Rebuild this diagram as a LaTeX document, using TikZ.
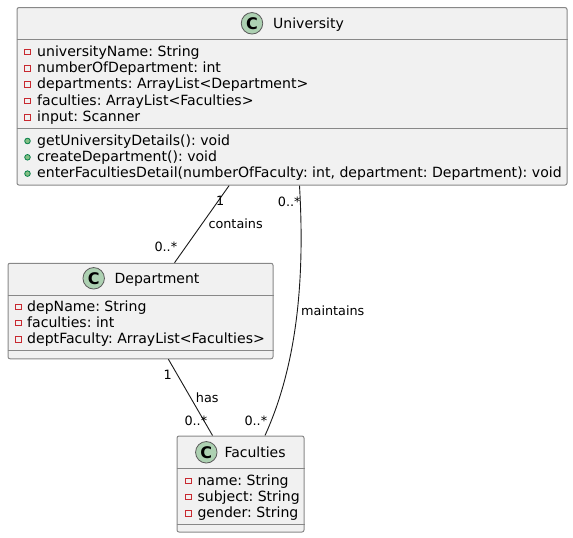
\documentclass[tikz,border=0pt]{standalone}
\usepackage{fontspec}
\setmainfont{DejaVu Sans}
\usepackage{xcolor}
\usetikzlibrary{calc}
\definecolor{BoxFill}{HTML}{F1F1F1}
\definecolor{BoxLine}{HTML}{888888}
\definecolor{SpotFill}{HTML}{ADD1B2}
\definecolor{PrivRed}{HTML}{C82930}
\definecolor{PubLine}{HTML}{038048}
\definecolor{PubFill}{HTML}{84BE84}
\tikzset{
  classbox/.style={draw=BoxLine, fill=BoxFill, rounded corners=2pt, line width=1pt, inner sep=0pt},
  sepline/.style={draw=BoxLine, line width=1pt},
  spot/.style={circle, draw=black!65, fill=SpotFill, line width=0.8pt, minimum size=21.5pt, inner sep=0pt, font=\fontsize{16}{16}\selectfont\bfseries},
  title/.style={anchor=base west, inner sep=0pt, font=\fontsize{14}{16}\selectfont},
  member/.style={anchor=base west, inner sep=0pt, font=\fontsize{14.08}{16}\selectfont},
  privmark/.style={rectangle, draw=PrivRed, line width=0.8pt, minimum size=5.6pt, inner sep=0pt},
  pubmark/.style={circle, draw=PubLine, fill=PubFill, line width=0.8pt, minimum size=5.6pt, inner sep=0pt},
  tag/.style={anchor=base west, inner sep=0pt, font=\fontsize{12.8}{14}\selectfont},
  assoc/.style={draw=black!90, line width=0.9pt}
}
\begin{document}
\frenchspacing
\begin{tikzpicture}[x=1pt,y=-1pt]
\useasboundingbox (0,0) rectangle (573,538);

\node[classbox, minimum width=550pt, minimum height=177.5pt] (univ) at (292,96.3) {};
\node[classbox, minimum width=265pt, minimum height=95.5pt] (dept) at (140.5,311) {};
\node[classbox, minimum width=127pt, minimum height=96pt] (fac) at (240.5,484) {};

\draw[sepline] (univ.west |- 0,39) -- (univ.east |- 0,39);
\draw[sepline] (univ.west |- 0,128) -- (univ.east |- 0,128);
\draw[sepline] (dept.west |- 0,295) -- (dept.east |- 0,295);
\draw[sepline] (dept.west |- 0,350) -- (dept.east |- 0,350);
\draw[sepline] (fac.west |- 0,468) -- (fac.east |- 0,468);
\draw[sepline] (fac.west |- 0,524) -- (fac.east |- 0,524);

\node[spot] (univspot) at (252,23.3) {C};
\node[title] (univname) at (273,28) {University};
\node[spot] (deptspot) at (93.7,278.3) {C};
\node[title] (deptname) at (114.5,283) {Department};
\node[spot] (facspot) at (206.3,452.3) {C};
\node[title] (facname) at (224.3,457) {Faculties};

\foreach \ty/\txt [count=\i] in {
  56.3/{universityName: String},
  72.6/{numberOfDepartment: int},
  88.9/{departments: ArrayList<Department>},
  105.2/{faculties: ArrayList<Faculties>},
  121.5/{input: Scanner}
}{
  \node[privmark] (ua\i) at (27.5,\ty-4.3) {};
  \node[member] (ut\i) at (37,\ty) {\txt};
}
\foreach \ty/\txt [count=\i] in {
  145.3/{getUniversityDetails(): void},
  161.6/{createDepartment(): void},
  177.9/{enterFacultiesDetail(numberOfFaculty: int, department: Department): void}
}{
  \node[pubmark] (uo\i) at (27.5,\ty-4.3) {};
  \node[member] (up\i) at (37,\ty) {\txt};
}
\foreach \ty/\txt [count=\i] in {
  311/{depName: String},
  327.3/{faculties: int},
  343.6/{deptFaculty: ArrayList<Faculties>}
}{
  \node[privmark] (da\i) at (18.5,\ty-4.3) {};
  \node[member] (dt\i) at (27,\ty) {\txt};
}
\foreach \ty/\txt [count=\i] in {
  485/{name: String},
  501.3/{subject: String},
  517.6/{gender: String}
}{
  \node[privmark] (fa\i) at (188.5,\ty-4.3) {};
  \node[member] (ft\i) at (197.3,\ty) {\txt};
}

\draw[assoc] (univ) -- (dept);
\draw[assoc] (dept) -- (fac);
\draw[assoc] ($(univ.south)+(7.5,0)$) .. controls (305,280) and (297,365) .. ($(fac.north)+(24.5,0)$);

\node[tag] (lblunivone) at (216,205) {1};
\node[tag] (lblcontains) at (208.3,228) {contains};
\node[tag] (lbldeptmany) at (154.3,251) {0..*};
\node[tag] (lblunivmany) at (277.7,206) {0..*};
\node[tag] (lblmaintains) at (301,315) {maintains};
\node[tag] (lbldeptone) at (163.3,379) {1};
\node[tag] (lblhas) at (195.7,402) {has};
\node[tag] (lblfacmany) at (184.3,425) {0..*};
\node[tag] (lblfacmanyb) at (244.3,425) {0..*};
\end{tikzpicture}
\end{document}
